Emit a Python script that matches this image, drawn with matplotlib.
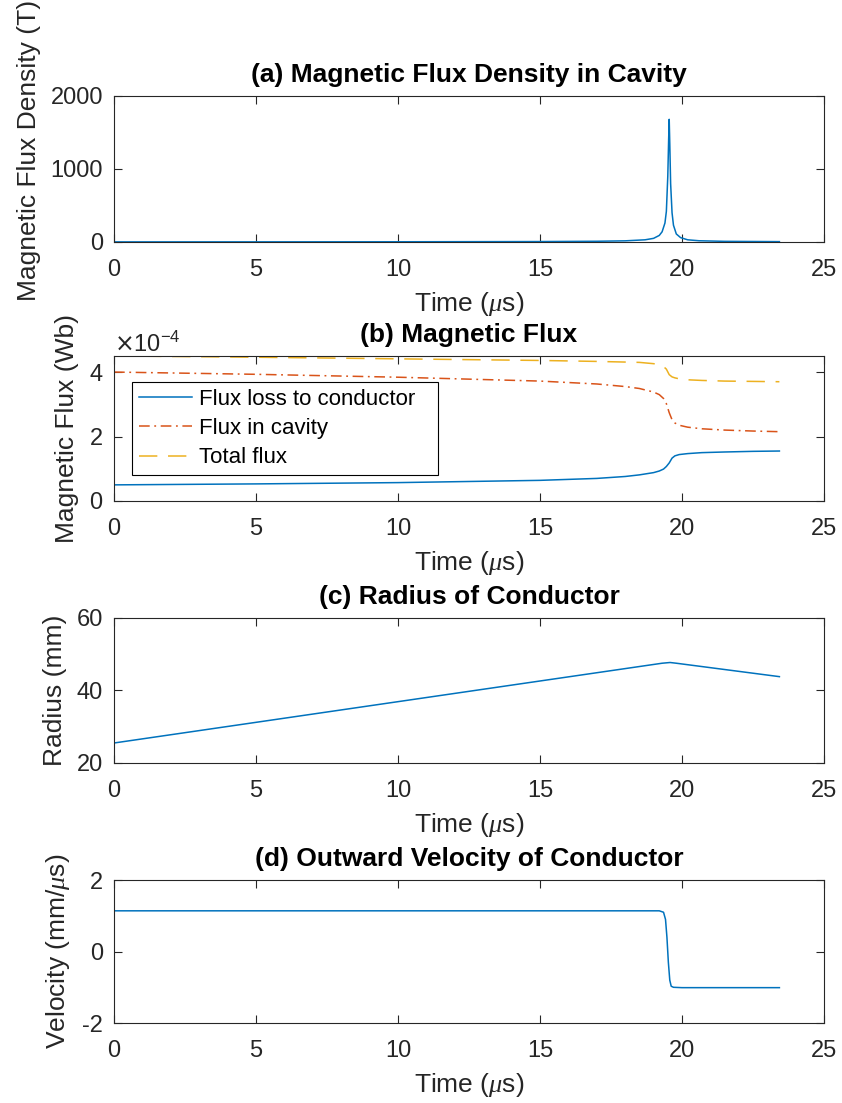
import numpy as np
import matplotlib
matplotlib.use("Agg")
import matplotlib.pyplot as plt
from matplotlib.ticker import ScalarFormatter

plt.rcParams["font.family"] = ["Liberation Sans", "DejaVu Sans"]
plt.rcParams["mathtext.fontset"] = "custom"
plt.rcParams["mathtext.it"] = "Liberation Serif:italic"
plt.rcParams["axes.unicode_minus"] = False

# (a) magnetic flux density in cavity (T)
t_b = [0, 5, 10, 15, 17, 18, 18.7, 19.0, 19.2, 19.3, 19.4, 19.45, 19.5, 19.53,
       19.55, 19.57, 19.6, 19.65, 19.7, 19.8, 19.95, 20.2, 20.6, 21.5, 23.43]
b_cavity = [1.5, 2, 3, 6, 10, 16, 30, 50, 90, 140, 260, 420, 900, 1400,
            1680, 1350, 800, 400, 230, 110, 60, 30, 17, 9, 5]

# (b) magnetic flux (Wb)
t_flux = [0, 5, 10, 15, 17, 18, 18.5, 19.0, 19.2, 19.35, 19.45, 19.55, 19.65,
          19.75, 19.9, 20.2, 20.7, 21.5, 22.5, 23.43]
flux_loss = [0.50e-4, 0.53e-4, 0.57e-4, 0.64e-4, 0.70e-4, 0.76e-4, 0.81e-4,
             0.88e-4, 0.93e-4, 0.99e-4, 1.07e-4, 1.18e-4, 1.33e-4, 1.40e-4,
             1.44e-4, 1.47e-4, 1.50e-4, 1.52e-4, 1.54e-4, 1.55e-4]
flux_cavity = [4.00e-4, 3.93e-4, 3.84e-4, 3.72e-4, 3.63e-4, 3.55e-4, 3.49e-4,
               3.38e-4, 3.30e-4, 3.18e-4, 3.02e-4, 2.74e-4, 2.52e-4, 2.42e-4,
               2.35e-4, 2.29e-4, 2.24e-4, 2.20e-4, 2.17e-4, 2.15e-4]
flux_total = [4.50e-4, 4.46e-4, 4.41e-4, 4.36e-4, 4.33e-4, 4.31e-4, 4.30e-4,
              4.26e-4, 4.23e-4, 4.17e-4, 4.09e-4, 3.92e-4, 3.85e-4, 3.82e-4,
              3.79e-4, 3.76e-4, 3.74e-4, 3.72e-4, 3.71e-4, 3.70e-4]

# (c) radius of conductor (mm)
t_r = [0, 5, 10, 15, 19.3, 19.58, 19.8, 23.43]
radius = [25.5, 31.2, 36.9, 42.6, 47.5, 47.7, 47.5, 43.8]

# (d) outward velocity (mm/us)
t_v = [0, 10, 19.2, 19.35, 19.42, 19.47, 19.52, 19.57, 19.62, 19.7, 20.0, 23.43]
velocity = [1.14, 1.14, 1.14, 1.10, 0.9, 0.4, -0.3, -0.8, -0.97, -1.0, -1.01, -1.01]

blue, orange, yellow = "#0072BD", "#D95319", "#EDB120"
axis_grey = "#262626"
tick_fs, label_fs, title_fs = 17, 19, 19

fig = plt.figure(figsize=(8.42, 11.03), dpi=100)
left, width = 0.1354, 0.8432
boxes = [(0.7806, 0.1324), (0.5458, 0.1315), (0.3083, 0.1315), (0.0725, 0.1296)]
axes = [fig.add_axes([left, b, width, h]) for b, h in boxes]


def style(ax, title, ylabel, ylim, yticks):
    ax.set_xlim(0, 25)
    ax.set_xticks([0, 5, 10, 15, 20, 25])
    ax.set_ylim(*ylim)
    ax.set_yticks(yticks)
    ax.tick_params(direction="in", top=True, right=True, length=5.5, width=0.8,
                   colors=axis_grey, labelsize=tick_fs)
    ax.tick_params(axis="x", pad=12.5)
    ax.tick_params(axis="y", pad=8)
    for sp in ax.spines.values():
        sp.set_color(axis_grey)
        sp.set_linewidth(0.8)
    ax.set_xlabel(r"Time ($\mu$s)", fontsize=label_fs, color=axis_grey, labelpad=6)
    ax.set_ylabel(ylabel, fontsize=label_fs, color=axis_grey, labelpad=7)
    ax.set_title(title, fontsize=title_fs, fontweight="bold", pad=10)


ax = axes[0]
ax.plot(t_b, b_cavity, color=blue, lw=1.1)
style(ax, "(a) Magnetic Flux Density in Cavity", "Magnetic Flux Density (T)",
      (0, 2000), [0, 1000, 2000])
ax.yaxis.label.set_y(0.63)

ax = axes[1]
ax.plot(t_flux, flux_loss, color=blue, lw=1.1, label="Flux loss to conductor")
ax.plot(t_flux, flux_cavity, color=orange, lw=1.1, ls=(0, (7, 3, 1.2, 3)),
        label="Flux in cavity")
ax.plot(t_flux, flux_total, color=yellow, lw=1.1, ls=(0, (12, 7)), label="Total flux")
style(ax, "(b) Magnetic Flux", "Magnetic Flux (Wb)", (0, 4.5e-4), [0, 2e-4, 4e-4])
fmt = ScalarFormatter(useMathText=True)
fmt.set_powerlimits((-3, 3))
ax.yaxis.set_major_formatter(fmt)
ax.yaxis.get_offset_text().set_fontsize(tick_fs)
ax.yaxis.get_offset_text().set_color(axis_grey)
leg = ax.legend(loc="upper left", bbox_to_anchor=(0.0254, 0.0, 0.431, 0.821),
                mode="expand", fontsize=16,
                frameon=True, fancybox=False, framealpha=1, edgecolor="black",
                handlelength=2.4, handletextpad=0.32, labelspacing=0.38,
                borderpad=0.3, borderaxespad=0)
leg.get_frame().set_linewidth(0.8)

ax = axes[2]
ax.plot(t_r, radius, color=blue, lw=1.1)
style(ax, "(c) Radius of Conductor", "Radius (mm)", (20, 60), [20, 40, 60])

ax = axes[3]
ax.plot(t_v, velocity, color=blue, lw=1.1)
style(ax, "(d) Outward Velocity of Conductor", r"Velocity (mm/$\mu$s)",
      (-2, 2), [-2, 0, 2])

fig.savefig("out.png", dpi=100)
